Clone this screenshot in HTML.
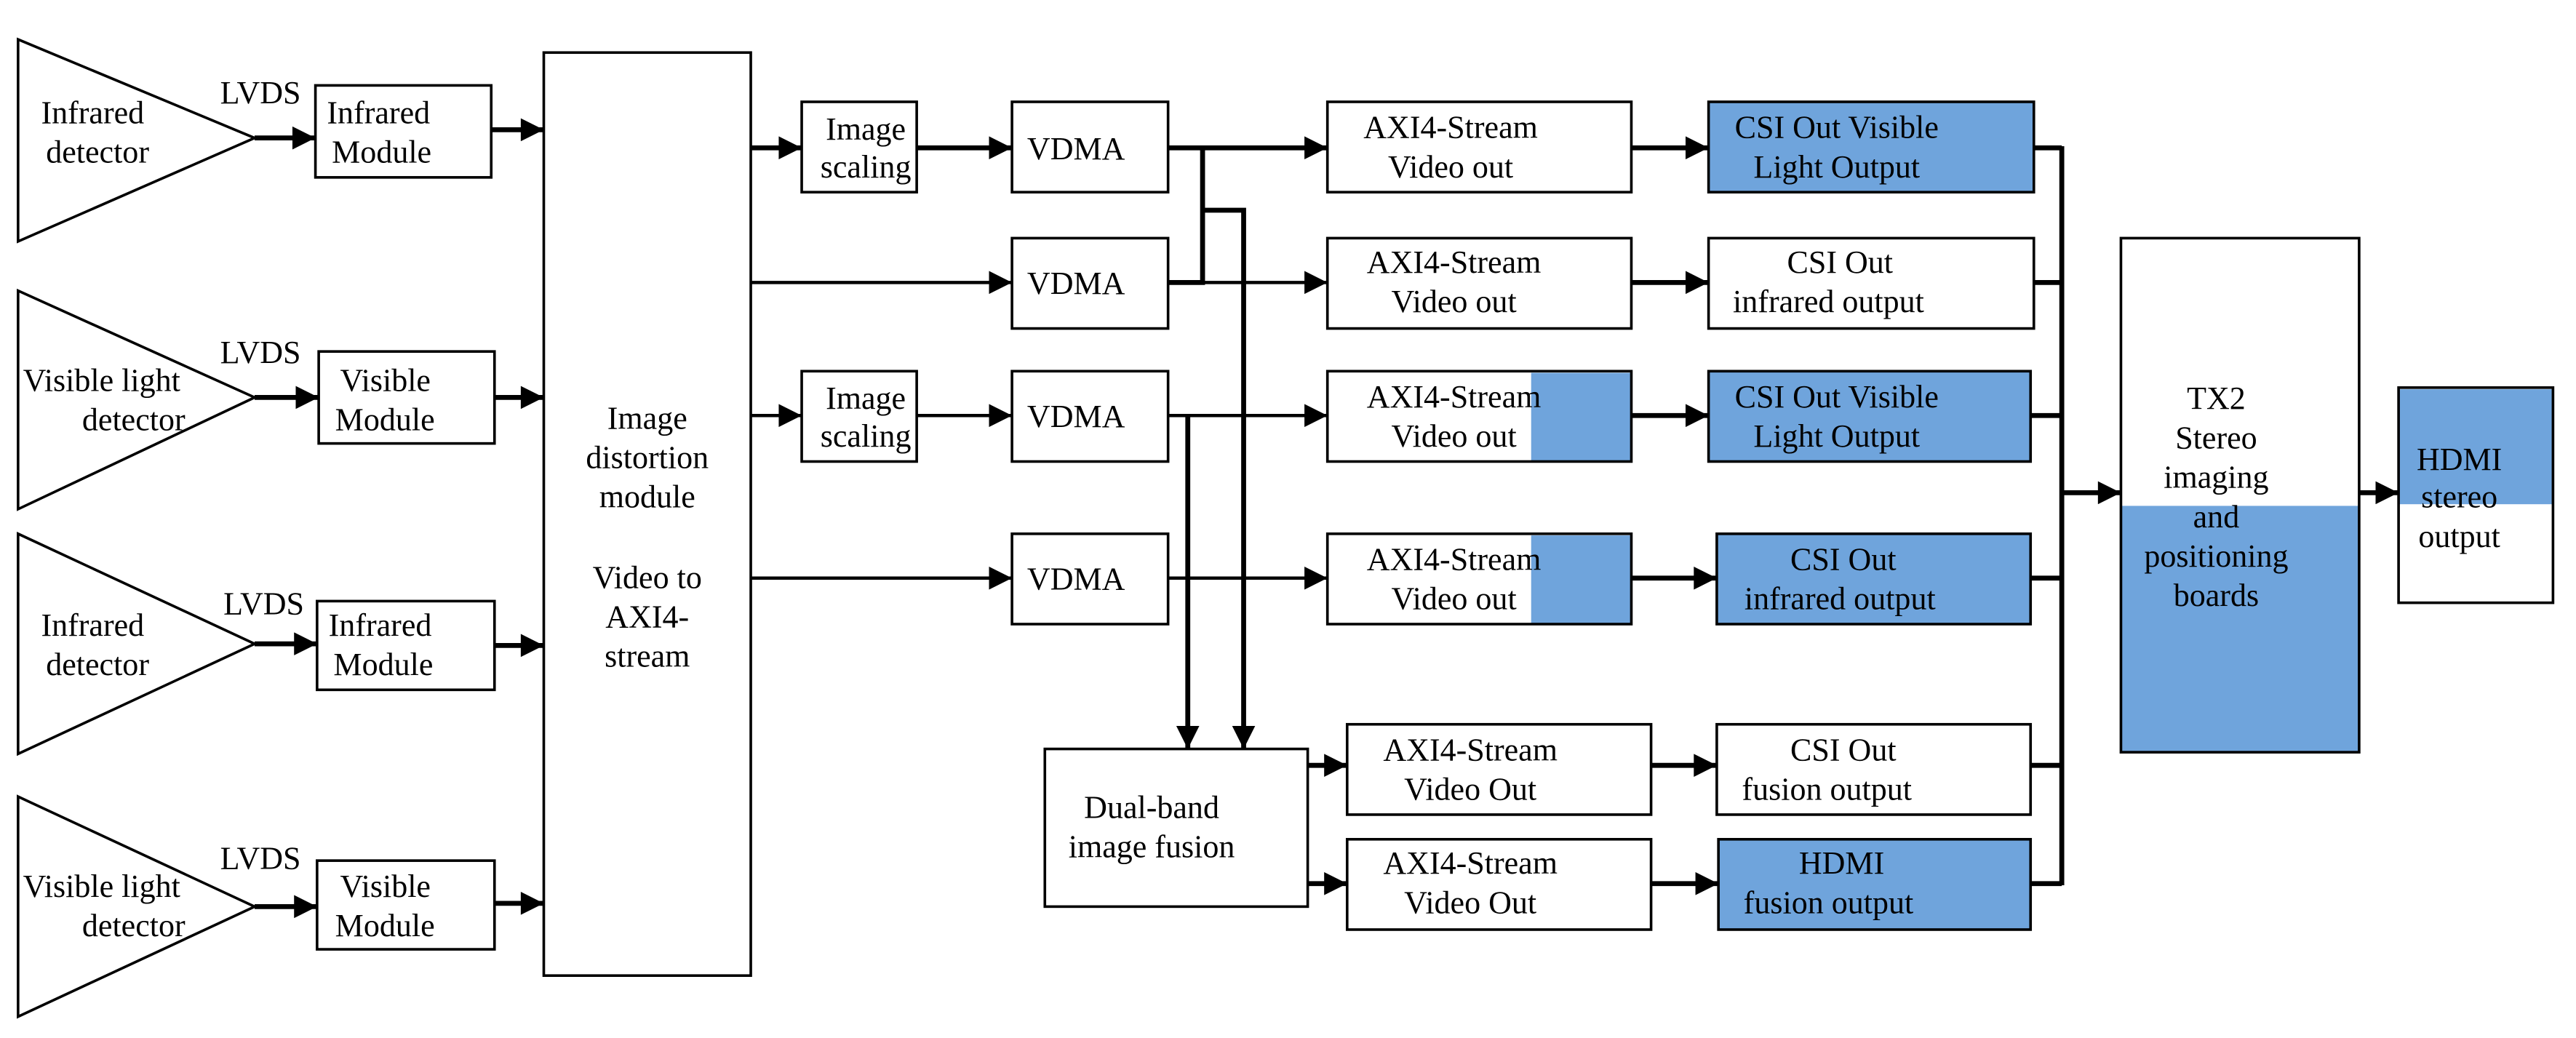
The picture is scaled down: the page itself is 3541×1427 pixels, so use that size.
<!DOCTYPE html>
<html><head><meta charset="utf-8"><style>
html,body{margin:0;padding:0;background:#fff;font-family:'Liberation Serif','Times New Roman',Times,serif;}
svg{display:block;}
</style></head><body>
<svg width="3541" height="1427" viewBox="0 0 1568 632" preserveAspectRatio="none" xmlns="http://www.w3.org/2000/svg">
<defs>
<marker id="a" viewBox="0 0 10 10" refX="10" refY="5" markerWidth="17" markerHeight="14" markerUnits="userSpaceOnUse" orient="auto"><path d="M0,0L10,5L0,10z" fill="#000"/></marker>
</defs>
<g fill="none" stroke="#000" stroke-width="1.6">
<polygon points="11,24 155,84 11,147"/>
<polygon points="11,177 155,242 11,310"/>
<polygon points="11,325 155,392 11,459"/>
<polygon points="11,485 155,552 11,619"/>
<rect x="192" y="52" width="107" height="56"/>
<rect x="194" y="214" width="107" height="56"/>
<rect x="193" y="366" width="108" height="54"/>
<rect x="193" y="524" width="108" height="54"/>
<rect x="331" y="32" width="126" height="562"/>
<rect x="488" y="62" width="70" height="55"/>
<rect x="488" y="226" width="70" height="55"/>
<rect x="616" y="62" width="95" height="55"/>
<rect x="616" y="145" width="95" height="55"/>
<rect x="616" y="226" width="95" height="55"/>
<rect x="616" y="325" width="95" height="55"/>
</g>
<g fill="#6fa4dc">
<rect x="1040" y="62" width="198" height="55"/>
<rect x="932" y="227" width="61" height="54"/>
<rect x="1040" y="226" width="196" height="55"/>
<rect x="932" y="326" width="61" height="54"/>
<rect x="1045" y="325" width="191" height="55"/>
<rect x="1046" y="511" width="190" height="55"/>
<rect x="1291" y="308" width="145" height="150"/>
<rect x="1460" y="237" width="94" height="70"/>
</g>
<g fill="none" stroke="#000" stroke-width="1.6">
<rect x="808" y="62" width="185" height="55"/>
<rect x="808" y="145" width="185" height="55"/>
<rect x="808" y="226" width="185" height="55"/>
<rect x="808" y="325" width="185" height="55"/>
<rect x="1040" y="62" width="198" height="55"/>
<rect x="1040" y="145" width="198" height="55"/>
<rect x="1040" y="226" width="196" height="55"/>
<rect x="1045" y="325" width="191" height="55"/>
<rect x="636" y="456" width="160" height="96"/>
<rect x="820" y="441" width="185" height="55"/>
<rect x="820" y="511" width="185" height="55"/>
<rect x="1045" y="441" width="191" height="55"/>
<rect x="1046" y="511" width="190" height="55"/>
<rect x="1291" y="145" width="145" height="313"/>
<rect x="1460" y="236" width="94" height="131"/>
</g>
<g stroke="#000" stroke-width="3" fill="none">
<line x1="155" y1="84" x2="192" y2="84" marker-end="url(#a)"/>
<line x1="155" y1="242" x2="194" y2="242" marker-end="url(#a)"/>
<line x1="155" y1="392" x2="193" y2="392" marker-end="url(#a)"/>
<line x1="155" y1="552" x2="193" y2="552" marker-end="url(#a)"/>
<line x1="299" y1="79" x2="331" y2="79" marker-end="url(#a)"/>
<line x1="301" y1="242" x2="331" y2="242" marker-end="url(#a)"/>
<line x1="301" y1="393" x2="331" y2="393" marker-end="url(#a)"/>
<line x1="301" y1="550" x2="331" y2="550" marker-end="url(#a)"/>
<line x1="457" y1="90" x2="488" y2="90" marker-end="url(#a)"/>
<line x1="558" y1="90" x2="616" y2="90" marker-end="url(#a)"/>
<line x1="711" y1="90" x2="808" y2="90" marker-end="url(#a)"/>
<line x1="993" y1="90" x2="1040" y2="90" marker-end="url(#a)"/>
<line x1="993" y1="172" x2="1040" y2="172" marker-end="url(#a)"/>
<line x1="993" y1="253" x2="1040" y2="253" marker-end="url(#a)"/>
<line x1="993" y1="352" x2="1045" y2="352" marker-end="url(#a)"/>
<line x1="1005" y1="466" x2="1045" y2="466" marker-end="url(#a)"/>
<line x1="1005" y1="538" x2="1046" y2="538" marker-end="url(#a)"/>
<line x1="796" y1="466" x2="820" y2="466" marker-end="url(#a)"/>
<line x1="796" y1="538" x2="820" y2="538" marker-end="url(#a)"/>
<polyline points="711,172 732,172 732,90"/>
<polyline points="732,128 757,128 757,456" marker-end="url(#a)"/>
<line x1="1238" y1="90" x2="1255" y2="90"/>
<line x1="1236" y1="538" x2="1255" y2="538"/>
<line x1="1255" y1="89" x2="1255" y2="539"/>
<line x1="1255" y1="300" x2="1291" y2="300" marker-end="url(#a)"/>
<line x1="1436" y1="300" x2="1460" y2="300" marker-end="url(#a)"/>
<line x1="558" y1="253" x2="616" y2="253" stroke-width="2" marker-end="url(#a)"/>
<line x1="723" y1="253" x2="723" y2="456" marker-end="url(#a)"/>
</g>
<g stroke="#000" stroke-width="2" fill="none">
<line x1="457" y1="172" x2="616" y2="172" marker-end="url(#a)"/>
<line x1="457" y1="253" x2="488" y2="253" marker-end="url(#a)"/>
<line x1="457" y1="352" x2="616" y2="352" marker-end="url(#a)"/>
<line x1="711" y1="172" x2="808" y2="172" marker-end="url(#a)"/>
<line x1="711" y1="253" x2="808" y2="253" marker-end="url(#a)"/>
<line x1="711" y1="352" x2="808" y2="352" marker-end="url(#a)"/>
<line x1="1238" y1="172" x2="1255" y2="172" stroke-width="3"/>
<line x1="1236" y1="253" x2="1255" y2="253" stroke-width="3"/>
<line x1="1236" y1="352" x2="1255" y2="352" stroke-width="3"/>
<line x1="1236" y1="466" x2="1255" y2="466" stroke-width="3"/>
</g>
<g style="font-family:'Liberation Serif','Times New Roman',Times,serif;font-size:19.5px" fill="#000">
<text x="25" y="75">Infrared</text><text x="28" y="99">detector</text>
<text x="14" y="238">Visible light</text><text x="50" y="262">detector</text>
<text x="25" y="387">Infrared</text><text x="28" y="411">detector</text>
<text x="14" y="546">Visible light</text><text x="50" y="570">detector</text>
<text x="134" y="63">LVDS</text><text x="134" y="221">LVDS</text>
<text x="136" y="374">LVDS</text><text x="134" y="529">LVDS</text>
<text x="199" y="75">Infrared</text><text x="202" y="99">Module</text>
<text x="207" y="238">Visible</text><text x="204" y="262">Module</text>
<text x="200" y="387">Infrared</text><text x="203" y="411">Module</text>
<text x="207" y="546">Visible</text><text x="204" y="570">Module</text>
<g text-anchor="middle">
<text x="394" y="261">Image</text><text x="394" y="285">distortion</text><text x="394" y="309">module</text>
<text x="394" y="358">Video to</text><text x="394" y="382">AXI4-</text><text x="394" y="406">stream</text>
<text x="527" y="85">Image</text><text x="527" y="108">scaling</text>
<text x="527" y="249">Image</text><text x="527" y="272">scaling</text>
<text x="655" y="97">VDMA</text><text x="655" y="179">VDMA</text>
<text x="655" y="260">VDMA</text><text x="655" y="359">VDMA</text>
<text x="883" y="84">AXI4-Stream</text><text x="883" y="108">Video out</text>
<text x="885" y="166">AXI4-Stream</text><text x="885" y="190">Video out</text>
<text x="885" y="248">AXI4-Stream</text><text x="885" y="272">Video out</text>
<text x="885" y="347">AXI4-Stream</text><text x="885" y="371">Video out</text>
<text x="1118" y="84">CSI Out Visible</text><text x="1118" y="108">Light Output</text>
<text x="1120" y="166">CSI Out</text><text x="1113" y="190">infrared output</text>
<text x="1118" y="248">CSI Out Visible</text><text x="1118" y="272">Light Output</text>
<text x="1122" y="347">CSI Out</text><text x="1120" y="371">infrared output</text>
<text x="701" y="498">Dual-band</text><text x="701" y="522">image fusion</text>
<text x="895" y="463">AXI4-Stream</text><text x="895" y="487">Video Out</text>
<text x="895" y="532">AXI4-Stream</text><text x="895" y="556">Video Out</text>
<text x="1122" y="463">CSI Out</text><text x="1112" y="487">fusion output</text>
<text x="1121" y="532">HDMI</text><text x="1113" y="556">fusion output</text>
<text x="1349" y="249">TX2</text><text x="1349" y="273">Stereo</text><text x="1349" y="297">imaging</text>
<text x="1349" y="321">and</text><text x="1349" y="345">positioning</text><text x="1349" y="369">boards</text>
<text x="1497" y="286">HDMI</text><text x="1497" y="309">stereo</text><text x="1497" y="333">output</text>
</g>
</g>
</svg>
</body></html>
